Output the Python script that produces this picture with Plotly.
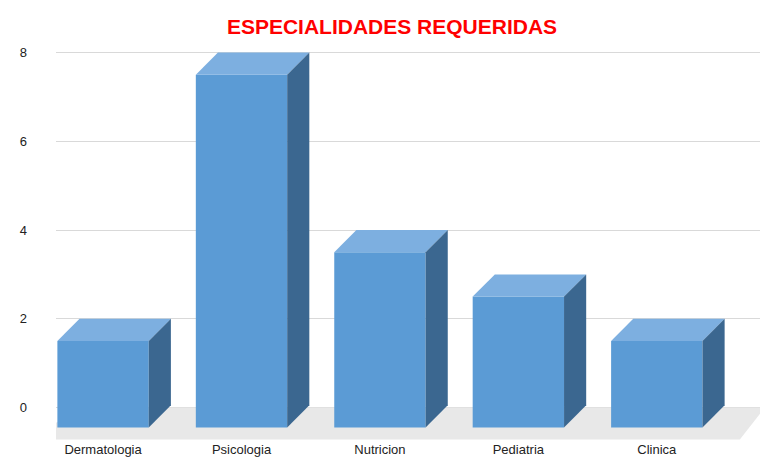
import plotly.graph_objects as go

categories = ["Dermatologia", "Psicologia", "Nutricion", "Pediatria", "Clinica"]
values = [1.5, 7.5, 3.5, 2.5, 1.5]

# pseudo 3d geometry (data units)
half_w = 0.33
dx = 0.16
dy = 0.5
base = -0.45

front_col = "#5B9BD5"
top_col = "#7DAFE0"
side_col = "#3B6790"

fig = go.Figure()

# floor
fig.add_trace(go.Scatter(
    x=[-0.15, 4.78, 4.6, -0.55, -0.15], y=[0, 0, -0.72, -0.72, 0],
    fill="toself", fillcolor="#E8E8E8", line=dict(width=0),
    mode="lines", hoverinfo="skip"))

for i, v in enumerate(values):
    x0, x1 = i - half_w, i + half_w
    # front face
    fig.add_trace(go.Scatter(
        x=[x0, x1, x1, x0, x0], y=[base, base, v, v, base],
        fill="toself", fillcolor=front_col, line=dict(width=0),
        mode="lines", name=categories[i], hoverinfo="name"))
    # top face
    fig.add_trace(go.Scatter(
        x=[x0, x1, x1 + dx, x0 + dx, x0], y=[v, v, v + dy, v + dy, v],
        fill="toself", fillcolor=top_col, line=dict(width=0),
        mode="lines", hoverinfo="skip"))
    # side face
    fig.add_trace(go.Scatter(
        x=[x1, x1 + dx, x1 + dx, x1, x1], y=[base, base + dy, v + dy, v, base],
        fill="toself", fillcolor=side_col, line=dict(width=0),
        mode="lines", hoverinfo="skip"))

fig.update_layout(
    width=768, height=461,
    margin=dict(l=45, r=14, t=40, b=24),
    paper_bgcolor="white", plot_bgcolor="white",
    showlegend=False,
    font=dict(family="Liberation Sans Narrow, Liberation Sans, sans-serif", size=13, color="#222"),
    title=dict(text="<b>ESPECIALIDADES REQUERIDAS</b>", x=0.5, y=0.975, xanchor="center",
               font=dict(size=21, color="#FF0000")),
    xaxis=dict(range=[-0.34, 4.76], tickvals=list(range(len(categories))), ticktext=categories,
               showgrid=False, zeroline=False, showline=False, ticks=""),
    yaxis=dict(range=[-0.73, 8.1], tickvals=[0, 2, 4, 6, 8], showgrid=True, gridcolor="#D9D9D9",
               zeroline=False, showline=False, ticks="", ticklabelstandoff=28),
)

fig.write_html("out.html")
